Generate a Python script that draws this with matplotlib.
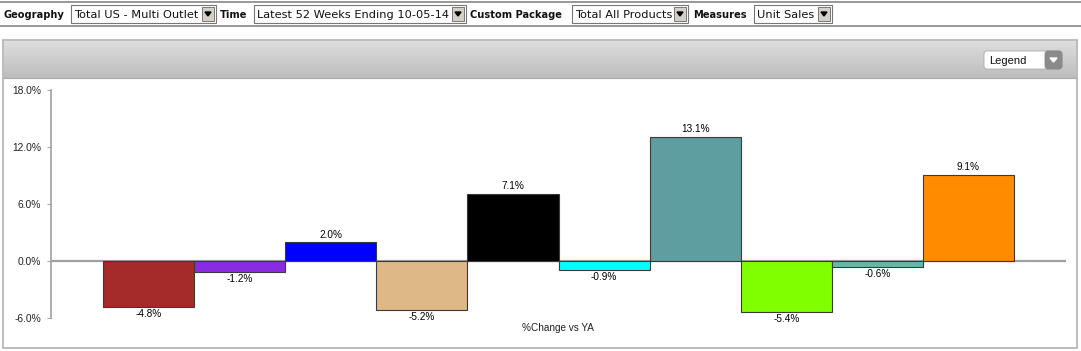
import numpy as np
import matplotlib
matplotlib.use("Agg")
import matplotlib.pyplot as plt
from matplotlib.patches import Rectangle, FancyBboxPatch

# data
values = [-4.8, -1.2, 2.0, -5.2, 7.1, -0.9, 13.1, -5.4, -0.6, 9.1]
colors = ["#a52a2a", "#8a2be2", "#0000ff", "#deb887", "#000000",
          "#00ffff", "#5f9ea0", "#7fff00", "#66b8a6", "#ff8c00"]
yticks = [-6, 0, 6, 12, 18]
filters = [("Geography", "Total US - Multi Outlet"),
           ("Time", "Latest 52 Weeks Ending 10-05-14"),
           ("Custom Package", "Total All Products"),
           ("Measures", "Unit Sales")]

W, H = 1081, 351
fig = plt.figure(figsize=(W / 100, H / 100), dpi=100)
fig.patch.set_facecolor("white")

# ui layer in pixel coords
ui = fig.add_axes([0, 0, 1, 1])
ui.set_xlim(0, W)
ui.set_ylim(H, 0)
ui.axis("off")

# top toolbar
ui.add_patch(Rectangle((0, 1), W, 2, color="#9a9a9a", lw=0))
ui.add_patch(Rectangle((0, 25), W, 2, color="#9a9a9a", lw=0))
label_x = [4, 220, 470, 693]
box_x = [(71, 216), (254, 466), (572, 688), (754, 832)]
for (lab, val), lx, (b0, b1) in zip(filters, label_x, box_x):
    ui.text(lx, 14.5, lab, fontsize=7.1, fontweight="bold", va="center",
            ha="left", family="DejaVu Sans", color="#111")
    ui.add_patch(Rectangle((b0, 5), b1 - b0, 18, facecolor="white",
                           edgecolor="#777", lw=0.8))
    ui.text(b0 + 3, 14.5, val, fontsize=8.2, va="center", ha="left",
            family="DejaVu Sans", color="#111")
    ui.add_patch(Rectangle((b1 - 14, 7), 12, 14, facecolor="#d4d0c8",
                           edgecolor="#666", lw=0.6))
    ui.fill([b1 - 11, b1 - 5, b1 - 8], [12, 12, 16], color="black")

# chart panel
ui.add_patch(Rectangle((3, 40), 1074, 308, facecolor="white",
                       edgecolor="#b0b0b0", lw=1.2))
grad = np.linspace(0, 1, 50).reshape(-1, 1)
ui.imshow(grad, extent=(4, 1076, 78, 41), cmap=matplotlib.colors.LinearSegmentedColormap.from_list(
    "g", ["#dddddd", "#bdbdbd"]), aspect="auto", zorder=1)
ui.plot([4, 1076], [78, 78], color="#a8a8a8", lw=0.8, zorder=2)
ui.add_patch(FancyBboxPatch((984, 51), 78, 18, boxstyle="round,pad=0,rounding_size=3",
                            facecolor="white", edgecolor="#aaa", lw=0.6, zorder=3))
ui.add_patch(FancyBboxPatch((1045, 51), 17, 18, boxstyle="round,pad=0,rounding_size=3",
                            facecolor="#8a8a8a", edgecolor="#888", lw=0.6, zorder=4))
ui.fill([1050, 1057, 1053.5], [58, 58, 62], color="white", zorder=5)
ui.text(989, 60.5, "Legend", fontsize=8, va="center", ha="left",
        family="Liberation Sans", color="#111", zorder=5)

# main plot axes
left, right, top, bottom = 51, 1066, 90, 318
ax = fig.add_axes([left / W, 1 - bottom / H, (right - left) / W, (bottom - top) / H])
ax.set_facecolor("none")
x = np.arange(len(values))
ax.bar(x, values, width=1.0, color=colors, edgecolor="#3a3a3a", linewidth=0.8, zorder=3)
ax.set_xlim(-1.071, 10.071)
ax.set_ylim(-6, 18)
ax.axhline(0, color="#a0a0a0", lw=1.6, zorder=2)

for xi, v in zip(x, values):
    if v >= 0:
        ax.annotate(f"{v:.1f}%", (xi, v), xytext=(0, 1.5), textcoords="offset points",
                    ha="center", va="bottom", fontsize=7.2, family="Liberation Sans")
    else:
        ax.annotate(f"{v:.1f}%", (xi, v), xytext=(0, -1.5), textcoords="offset points",
                    ha="center", va="top", fontsize=7.2, family="Liberation Sans")

ax.set_yticks(yticks)
ax.set_yticklabels([f"{t:.1f}%" for t in yticks], fontsize=7.4,
                   family="Liberation Sans", color="#222")
ax.tick_params(axis="y", length=3, color="#aaa", pad=4)
ax.set_xticks([])
for s in ["top", "right", "bottom"]:
    ax.spines[s].set_visible(False)
ax.spines["left"].set_color("#a0a0a0")
ax.spines["left"].set_linewidth(1.2)

fig.text(558 / W, 1 - 328 / H, "%Change vs YA", ha="center", va="center",
         fontsize=7.2, family="Liberation Sans", color="#222")

fig.savefig("out.png", dpi=100)
